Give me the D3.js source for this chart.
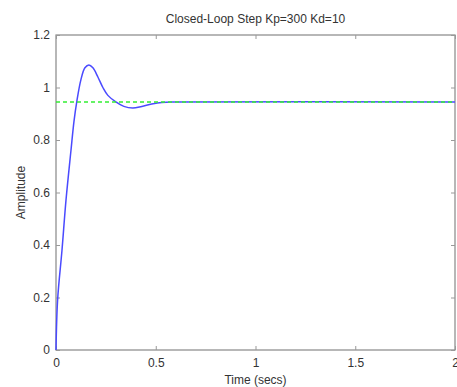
<!DOCTYPE html>
<html>
<head>
<meta charset="utf-8">
<script src="https://cdn.jsdelivr.net/npm/d3@7"></script>
<style>
  body { margin: 0; background: #fff; }
  text { font-family: "Liberation Sans", Arial, sans-serif; fill: #333; }
</style>
</head>
<body>
<script>
var width = 457,
    height = 387;

// step response
var times = [0, 0.008, 0.03, 0.05, 0.075, 0.09, 0.105, 0.125, 0.145, 0.165, 0.185, 0.21, 0.235, 0.26, 0.3, 0.34, 0.385, 0.43, 0.48, 0.53, 0.6, 2];
var amps  = [0, 0.19, 0.38, 0.57, 0.76, 0.87, 0.95, 1.03, 1.075, 1.086, 1.075, 1.04, 1.0, 0.97, 0.945, 0.928, 0.922, 0.928, 0.937, 0.943, 0.945, 0.945];
var finalValue = 0.945;
var xTicks = [0, 0.5, 1, 1.5, 2];
var yTicks = [0, 0.2, 0.4, 0.6, 0.8, 1, 1.2];

var margin = {top: 35, right: 2, bottom: 37, left: 56};

var svg = d3.select("body")
    .append("svg")
    .attr("width", width)
    .attr("height", height);

var x = d3.scaleLinear().domain([0, 2]).range([margin.left, width - margin.right]);
var y = d3.scaleLinear().domain([0, 1.2]).range([height - margin.bottom, margin.top]);

// frame
svg.append("rect")
    .attr("x", x(0)).attr("y", y(1.2))
    .attr("width", x(2) - x(0)).attr("height", y(0) - y(1.2))
    .attr("fill", "none").attr("stroke", "#888").attr("stroke-width", 1.2);

var fmt = function(d) { return d3.format("")(d); };

// ticks on all four sides, pointing inward
var xb = svg.append("g")
    .attr("transform", "translate(0," + y(0) + ")")
    .call(d3.axisBottom(x).tickValues(xTicks).tickSize(-4).tickPadding(8).tickFormat(fmt));
var xt = svg.append("g")
    .attr("transform", "translate(0," + y(1.2) + ")")
    .call(d3.axisTop(x).tickValues(xTicks).tickSize(-4).tickFormat(""));
var yl = svg.append("g")
    .attr("transform", "translate(" + x(0) + ",0)")
    .call(d3.axisLeft(y).tickValues(yTicks).tickSize(-4).tickPadding(6).tickFormat(fmt));
var yr = svg.append("g")
    .attr("transform", "translate(" + x(2) + ",0)")
    .call(d3.axisRight(y).tickValues(yTicks).tickSize(-4).tickFormat(""));

[xb, xt, yl, yr].forEach(function(g) {
    g.select(".domain").remove();
    g.selectAll("line").attr("stroke", "#999");
    g.selectAll("text").style("font-size", "12px").attr("fill", "#444")
        .style("font-family", "\"Liberation Sans\", Arial, sans-serif");
});

var line = d3.line()
    .x(function(d, i) { return x(times[i]); })
    .y(function(d) { return y(d); })
    .curve(d3.curveCatmullRom.alpha(0.5));

svg.append("path")
    .attr("d", line(amps))
    .attr("fill", "none")
    .attr("stroke", "#4a4aff")
    .attr("stroke-width", 1.5);

// final value, dashed on top of the response
svg.append("line")
    .attr("x1", x(0)).attr("x2", x(2))
    .attr("y1", y(finalValue)).attr("y2", y(finalValue))
    .attr("stroke", "#33ee33")
    .attr("stroke-width", 1.4)
    .attr("stroke-dasharray", "4,3");

// labels
svg.append("text")
    .attr("x", (x(0) + x(2)) / 2).attr("y", 23)
    .attr("text-anchor", "middle")
    .style("font-size", "12px")
    .attr("fill", "#444")
    .text("Closed-Loop Step Kp=300 Kd=10");

svg.append("text")
    .attr("x", (x(0) + x(2)) / 2).attr("y", 384)
    .attr("text-anchor", "middle")
    .style("font-size", "12px")
    .text("Time (secs)");

svg.append("text")
    .attr("transform", "translate(25," + ((y(0) + y(1.2)) / 2) + ") rotate(-90)")
    .attr("text-anchor", "middle")
    .style("font-size", "12px")
    .text("Amplitude");
</script>
</body>
</html>
